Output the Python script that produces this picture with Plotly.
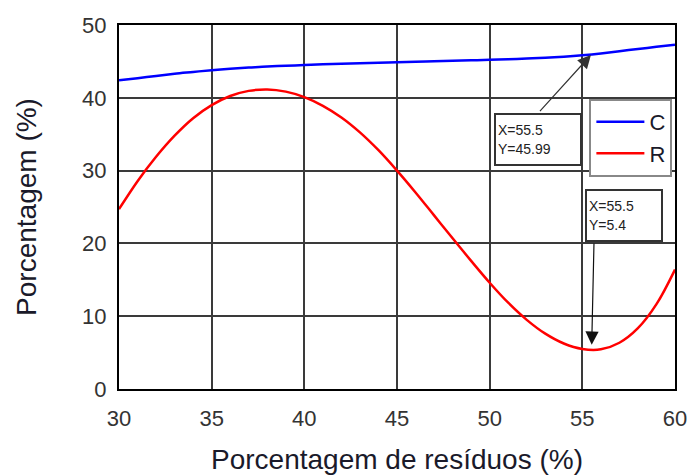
import plotly.graph_objects as go

x_vals = [30, 31, 32, 33, 34, 35, 36, 37, 38, 39, 40, 41, 42, 43, 44, 45, 46, 47, 48, 49,
          50, 51, 52, 53, 54, 55, 56, 57, 58, 59, 60]
c_vals = [42.4, 42.7, 43.0, 43.3, 43.55, 43.8, 44.0, 44.15, 44.3, 44.4, 44.5, 44.6, 44.67,
          44.75, 44.82, 44.9, 44.95, 45.02, 45.08, 45.15, 45.22, 45.3, 45.4, 45.5, 45.65,
          45.85, 46.1, 46.4, 46.7, 47.0, 47.3]
r_vals = [24.7, 28.55, 31.9, 34.8, 37.2, 39.0, 40.25, 40.95, 41.15, 40.85, 40.1, 38.9, 37.3,
          35.25, 32.8, 30.0, 27.0, 23.85, 20.7, 17.6, 14.6, 11.85, 9.5, 7.6, 6.25, 5.5, 5.45,
          6.35, 8.35, 11.65, 16.4]

tip_x = 55.5
tip_c = 45.99
tip_r = 5.4

font_fam = "Liberation Sans, Arial, sans-serif"

fig = go.Figure()
fig.add_trace(go.Scatter(x=x_vals, y=c_vals, mode="lines", name="C",
                         line=dict(color="#0000ff", width=2.5, shape="spline", smoothing=1)))
fig.add_trace(go.Scatter(x=x_vals, y=r_vals, mode="lines", name="R",
                         line=dict(color="#ff0000", width=2.5, shape="spline", smoothing=1)))

axis_common = dict(showline=True, mirror=True, linecolor="#000000", linewidth=2,
                   showgrid=True, gridcolor="#3a3a3a", gridwidth=1.5, zeroline=False,
                   ticks="", automargin=False, ticklabeloverflow="allow",
                   tickfont=dict(family=font_fam, size=22, color="#333333"))

fig.update_xaxes(range=[30, 60], dtick=5, tick0=30, ticklabelstandoff=9,
                 title=dict(text="Porcentagem de resíduos (%)", standoff=20,
                            font=dict(family=font_fam, size=28, color="#1a1a2a")),
                 **axis_common)
fig.update_yaxes(range=[0, 50], dtick=10, tick0=0, ticklabelstandoff=6,
                 title=dict(text="Porcentagem (%)", standoff=37,
                            font=dict(family=font_fam, size=28, color="#1a1a2a")),
                 **axis_common)

# data tip boxes
box_font = dict(family=font_fam, size=14, color="#222222")
fig.add_annotation(x=52.62, y=34.3, xref="x", yref="y", showarrow=False,
                   text="X=%s<br>Y=%s" % (tip_x, tip_c), align="left",
                   xanchor="center", yanchor="middle", width=80, height=45,
                   bgcolor="#ffffff", bordercolor="#333333", borderwidth=2, borderpad=2,
                   font=box_font)
fig.add_annotation(x=57.25, y=23.86, xref="x", yref="y", showarrow=False,
                   text="X=%s<br>Y=%s" % (tip_x, tip_r), align="left",
                   xanchor="center", yanchor="middle", width=70, height=45,
                   bgcolor="#ffffff", bordercolor="#333333", borderwidth=2, borderpad=2,
                   font=box_font)
# arrows
fig.add_annotation(x=tip_x, y=tip_c, xref="x", yref="y", ax=52.64, ay=37.95,
                   axref="x", ayref="y", text="", showarrow=True, arrowhead=2,
                   arrowsize=2.2, arrowwidth=1.2, arrowcolor="#333333", standoff=1)
fig.add_annotation(x=tip_x, y=tip_r, xref="x", yref="y", ax=55.63, ay=20.2,
                   axref="x", ayref="y", text="", showarrow=True, arrowhead=2,
                   arrowsize=2.2, arrowwidth=1.2, arrowcolor="#111111", standoff=5)

fig.update_layout(
    width=687, height=475,
    margin=dict(l=119, r=12, t=25, b=86),
    paper_bgcolor="#ffffff", plot_bgcolor="#ffffff",
    font=dict(family=font_fam),
    showlegend=True,
    legend=dict(x=0.846, y=0.797, xanchor="left", yanchor="top",
                bgcolor="#ffffff", bordercolor="#888888", borderwidth=2,
                font=dict(family=font_fam, size=22, color="#1a1a2a"),
                itemwidth=48, tracegroupgap=0),
)

fig.write_html("out.html", config={"displayModeBar": False},
               post_script="document.body.style.margin='0';document.body.style.overflow='hidden';")
